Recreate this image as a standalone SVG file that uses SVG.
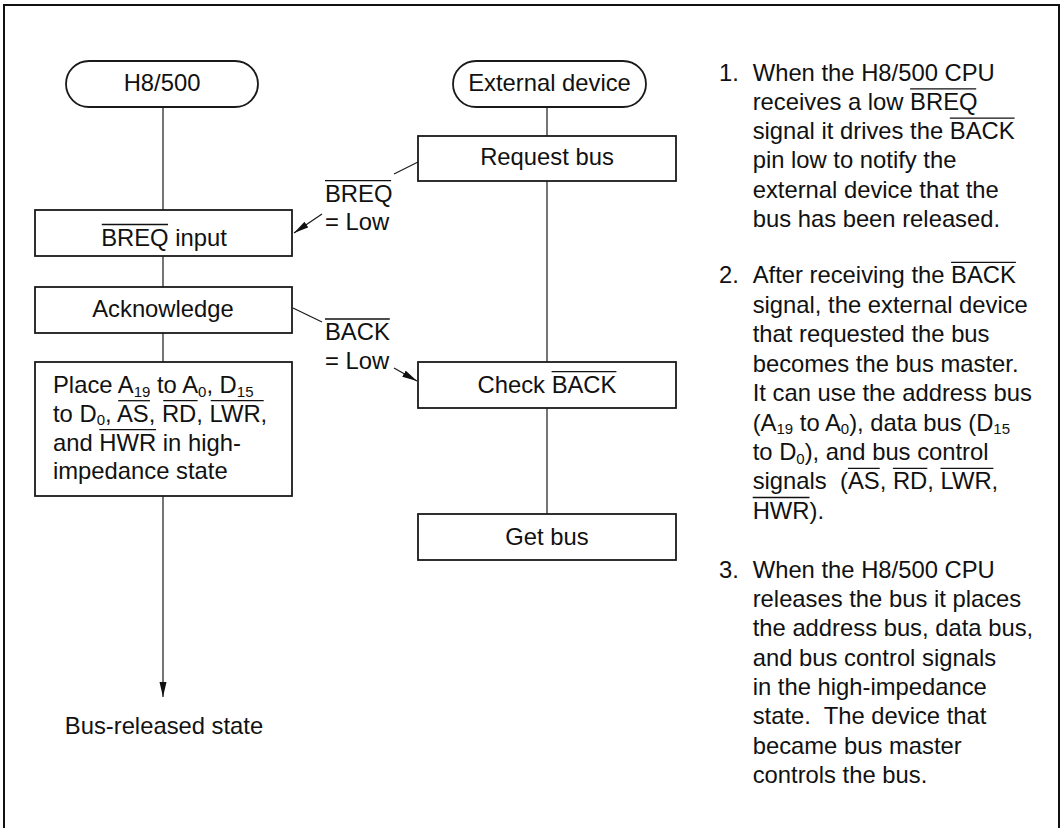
<svg xmlns="http://www.w3.org/2000/svg" width="1062" height="828" viewBox="0 0 1062 828">
<style>
.t{font-family:"Liberation Sans",Arial,Helvetica,sans-serif;font-size:23.8px;fill:#111;white-space:pre}
.c{text-anchor:middle}
.sub{font-size:15px}
.box{fill:#fff;stroke:#1a1a1a;stroke-width:1.8}
.ln{fill:none;stroke:#1a1a1a;stroke-width:1.2}
.ov{fill:none;stroke:#111;stroke-width:1.3}
</style>
<defs>
<marker id="ah" markerUnits="userSpaceOnUse" markerWidth="16" markerHeight="8" refX="15" refY="3.5" orient="auto">
<path d="M0,0 L15,3.5 L0,7 Z" fill="#111"/>
</marker>
</defs>
<rect x="0" y="0" width="1062" height="828" fill="#fff"/>
<rect x="4" y="5" width="1055" height="830" fill="none" stroke="#111" stroke-width="2"/>

<g id="connectors">
<line class="ln" x1="163" y1="107" x2="163" y2="210"/>
<line class="ln" x1="163" y1="256" x2="163" y2="287"/>
<line class="ln" x1="163" y1="333" x2="163" y2="362"/>
<line class="ln" x1="163" y1="496" x2="163" y2="697" marker-end="url(#ah)"/>
<line class="ln" x1="547" y1="107" x2="547" y2="136"/>
<line class="ln" x1="547" y1="181" x2="547" y2="362"/>
<line class="ln" x1="547" y1="408" x2="547" y2="514"/>
<line class="ln" x1="418" y1="162" x2="394" y2="174"/>
<line class="ln" x1="322" y1="214" x2="294" y2="233" marker-end="url(#ah)"/>
<line class="ln" x1="293" y1="308" x2="322" y2="322"/>
<line class="ln" x1="394" y1="368" x2="417" y2="381" marker-end="url(#ah)"/>
</g>

<g id="n-h8500">
<rect class="box" x="66" y="61" width="192" height="46" rx="23" ry="23"/>
<text class="t c" x="162" y="90.5">H8/500</text>
</g>
<g id="n-breq-input">
<rect class="box" x="35" y="210" width="257" height="46"/>
<text class="t c" x="164" y="245.5">BREQ input</text>
<line class="ov" x1="101.8" y1="224.5" x2="168" y2="224.5"/>
</g>
<g id="n-ack">
<rect class="box" x="35" y="287" width="257" height="46"/>
<text class="t c" x="163" y="316.7">Acknowledge</text>
</g>
<g id="n-place">
<rect class="box" x="35" y="362" width="257" height="134"/>
<text class="t" x="53" y="393.3">Place A<tspan class="sub" dy="3.5">19</tspan><tspan dy="-3.5"> to A</tspan><tspan class="sub" dy="3.5">0</tspan><tspan dy="-3.5">, D</tspan><tspan class="sub" dy="3.5">15</tspan></text>
<text class="t" x="53" y="421.7">to D<tspan class="sub" dy="3.5">0</tspan><tspan dy="-3.5">, AS, RD, LWR,</tspan></text>
<text class="t" x="53" y="450.7">and HWR in high-</text>
<text class="t" x="53" y="479.3">impedance state</text>
<line class="ov" x1="118.2" y1="400.7" x2="150" y2="400.7"/>
<line class="ov" x1="163.2" y1="400.7" x2="197.6" y2="400.7"/>
<line class="ov" x1="210.8" y1="400.7" x2="263.7" y2="400.7"/>
<line class="ov" x1="99.3" y1="429.7" x2="156.1" y2="429.7"/>
</g>
<g id="n-bus-released">
<text class="t c" x="164" y="733.5">Bus-released state</text>
</g>

<g id="n-ext">
<rect class="box" x="453" y="61" width="193" height="46" rx="23" ry="23"/>
<text class="t c" x="549.5" y="90.5">External device</text>
</g>
<g id="n-request">
<rect class="box" x="418" y="136" width="258" height="45"/>
<text class="t c" x="547" y="165">Request bus</text>
</g>
<g id="n-check">
<rect class="box" x="418" y="362" width="258" height="46"/>
<text class="t c" x="547" y="392.7">Check BACK</text>
<line class="ov" x1="551.6" y1="371.7" x2="616.4" y2="371.7"/>
</g>
<g id="n-getbus">
<rect class="box" x="418" y="514" width="258" height="46"/>
<text class="t c" x="547" y="545">Get bus</text>
</g>

<g id="labels">
<text class="t" x="325" y="201.7">BREQ</text>
<line class="ov" x1="325" y1="180.7" x2="391.1" y2="180.7"/>
<text class="t" x="325" y="230">= Low</text>
<text class="t" x="325" y="340">BACK</text>
<line class="ov" x1="325" y1="319" x2="389.8" y2="319"/>
<text class="t" x="325" y="369">= Low</text>
</g>

<g id="notes">
<text class="t" x="719" y="80.7">1.</text>
<text class="t" x="752.7" y="80.7">When the H8/500 CPU</text>
<text class="t" x="752.7" y="109.9">receives a low BREQ</text>
<line class="ov" x1="910.1" y1="88.9" x2="976.2" y2="88.9"/>
<text class="t" x="752.7" y="139.1">signal it drives the BACK</text>
<line class="ov" x1="949.8" y1="118.1" x2="1014.6" y2="118.1"/>
<text class="t" x="752.7" y="168.3">pin low to notify the</text>
<text class="t" x="752.7" y="197.5">external device that the</text>
<text class="t" x="752.7" y="226.7">bus has been released.</text>

<text class="t" x="719" y="283.3">2.</text>
<text class="t" x="752.7" y="283.3">After receiving the BACK</text>
<line class="ov" x1="951.1" y1="262.3" x2="1015.9" y2="262.3"/>
<text class="t" x="752.7" y="312.7">signal, the external device</text>
<text class="t" x="752.7" y="342">that requested the bus</text>
<text class="t" x="752.7" y="371.8">becomes the bus master.</text>
<text class="t" x="752.7" y="401.2">It can use the address bus</text>
<text class="t" x="752.7" y="430.6">(A<tspan class="sub" dy="3.5">19</tspan><tspan dy="-3.5"> to A</tspan><tspan class="sub" dy="3.5">0</tspan><tspan dy="-3.5">), data bus (D</tspan><tspan class="sub" dy="3.5">15</tspan></text>
<text class="t" x="752.7" y="460">to D<tspan class="sub" dy="3.5">0</tspan><tspan dy="-3.5">), and bus control</tspan></text>
<text class="t" x="752.7" y="489.4">signals  (AS, RD, LWR,</text>
<line class="ov" x1="847.9" y1="468.4" x2="879.7" y2="468.4"/>
<line class="ov" x1="892.9" y1="468.4" x2="927.3" y2="468.4"/>
<line class="ov" x1="940.5" y1="468.4" x2="993.4" y2="468.4"/>
<text class="t" x="752.7" y="518.5">HWR).</text>
<line class="ov" x1="752.7" y1="497.5" x2="809.5" y2="497.5"/>

<text class="t" x="719" y="578.3">3.</text>
<text class="t" x="752.7" y="578.3">When the H8/500 CPU</text>
<text class="t" x="752.7" y="607.3">releases the bus it places</text>
<text class="t" x="752.7" y="636">the address bus, data bus,</text>
<text class="t" x="752.7" y="665.7">and bus control signals</text>
<text class="t" x="752.7" y="695">in the high-impedance</text>
<text class="t" x="752.7" y="724.3">state.  The device that</text>
<text class="t" x="752.7" y="753.8">became bus master</text>
<text class="t" x="752.7" y="782.7">controls the bus.</text>
</g>
</svg>
